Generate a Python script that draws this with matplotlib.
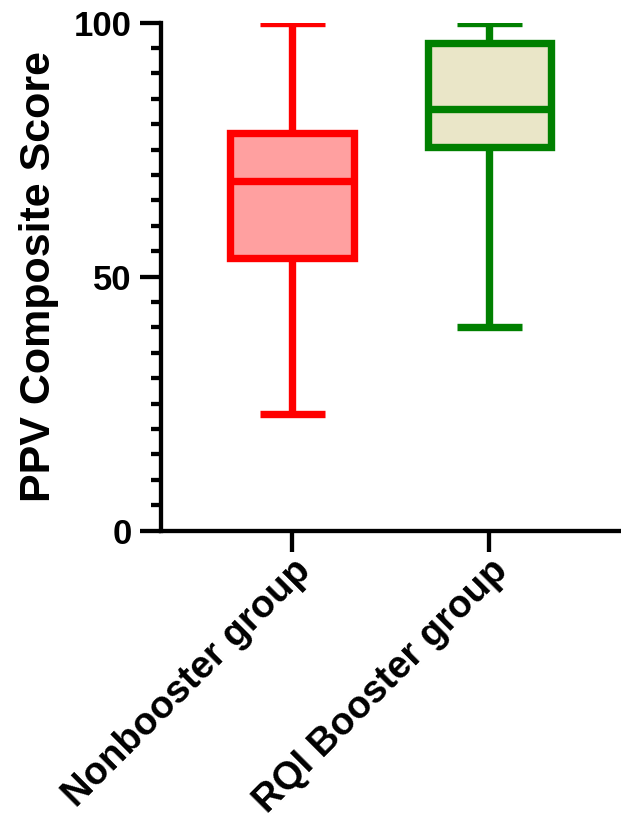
import matplotlib
matplotlib.use("Agg")
import matplotlib.pyplot as plt
from matplotlib.ticker import MultipleLocator

plt.rcParams['font.family'] = ['Liberation Sans', 'DejaVu Sans']
plt.rcParams['font.weight'] = 'bold'

# box plot summary values
groups = ["Nonbooster group", "RQI Booster group"]
whislo = [23.0, 40.0]
q1 = [53.7, 75.6]
med = [68.9, 82.9]
q3 = [78.2, 96.0]
whishi = [100.0, 100.0]

edge_cols = ["#FF0000", "#008000"]
fill_cols = ["#FFA0A0", "#EAE6C8"]

fig = plt.figure(figsize=(6.21, 8.27), dpi=100)
ax = fig.add_axes([0.259, 0.3585, 0.741, 0.6142])

lw = 5.3
for i in range(len(groups)):
    st = [{"label": groups[i], "whislo": whislo[i], "q1": q1[i], "med": med[i],
           "q3": q3[i], "whishi": whishi[i], "fliers": []}]
    ax.bxp(st, positions=[i + 1], widths=0.628, capwidths=0.33, patch_artist=True,
           showfliers=False,
           boxprops=dict(facecolor=fill_cols[i], edgecolor=edge_cols[i], linewidth=lw, joinstyle='miter'),
           medianprops=dict(color=edge_cols[i], linewidth=lw, solid_capstyle='butt'),
           whiskerprops=dict(color=edge_cols[i], linewidth=lw, solid_capstyle='butt'),
           capprops=dict(color=edge_cols[i], linewidth=lw, solid_capstyle='butt'))

ax.set_xlim(0.333, 2.667)
ax.set_ylim(0, 100)
ax.set_xticks([1, 2])
ax.set_xticklabels(groups, rotation=45, ha='right', va='top', rotation_mode='anchor',
                   fontsize=27.5, fontweight='bold')
ax.yaxis.set_major_locator(MultipleLocator(50))
ax.yaxis.set_minor_locator(MultipleLocator(5))
for lab in ax.get_yticklabels():
    lab.set_fontsize(25)
    lab.set_fontweight('bold')

ax.set_ylabel("PPV Composite Score", fontsize=31, fontweight='bold', labelpad=11)

for s in ['top', 'right']:
    ax.spines[s].set_visible(False)
for s in ['left', 'bottom']:
    ax.spines[s].set_linewidth(3.1)
ax.tick_params(axis='both', which='major', width=3.1, length=15, pad=6)
ax.tick_params(axis='x', which='major', pad=1)
ax.tick_params(axis='y', which='minor', width=3.1, length=7.5)
ax.tick_params(axis='x', which='minor', bottom=False)

fig.savefig("out.png", dpi=100)
